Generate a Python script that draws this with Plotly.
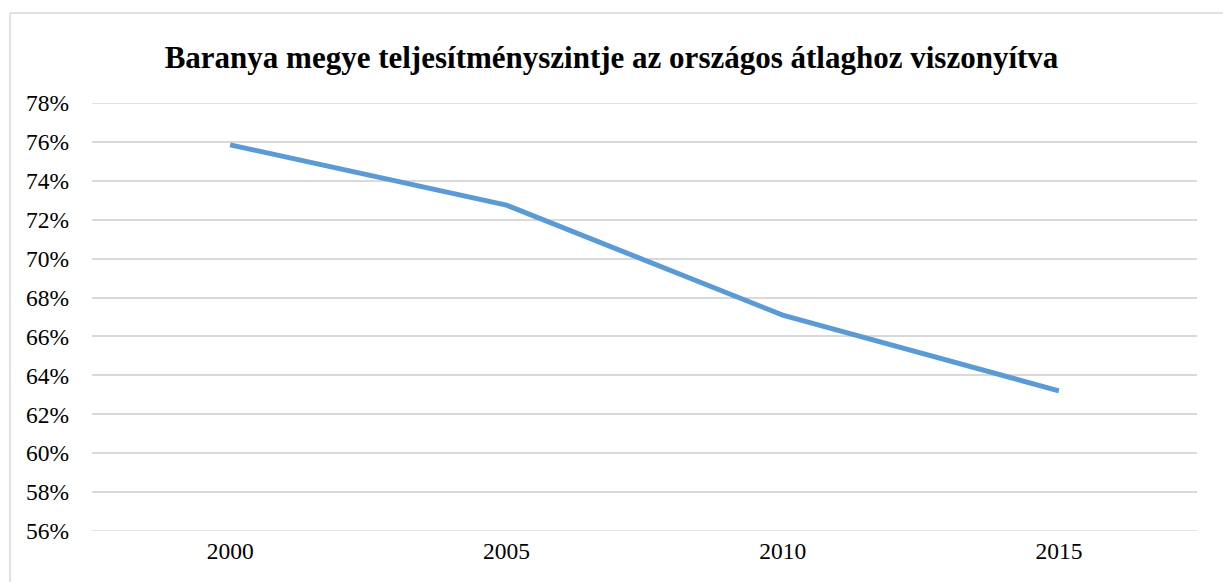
import plotly.graph_objects as go

years = ["2000", "2005", "2010", "2015"]
values = [75.85, 72.75, 67.1, 63.2]
y_ticks = [56, 58, 60, 62, 64, 66, 68, 70, 72, 74, 76, 78]
y_tick_labels = [f"{v}%" for v in y_ticks]
title_text = "Baranya megye teljesítményszintje az országos átlaghoz viszonyítva"

W, H = 1223, 582
L, R, T, B = 92, 26, 103, 51
pw, ph = W - L - R, H - T - B
SERIF = "Liberation Serif, Times New Roman, serif"
GRID = "#D9D9D9"

def px_x(x):
    return (x - L) / pw

def px_y(y):
    return (H - B - y) / ph

fig = go.Figure()
fig.add_trace(go.Scatter(
    x=years, y=values, mode="lines",
    line=dict(color="#5B9BD5", width=5),
    hoverinfo="skip", showlegend=False,
))

edge_lines = [
    dict(type="line", xref="paper", yref="y", x0=0, x1=1, y0=v, y1=v,
         line=dict(color=GRID, width=1.5), layer="below")
    for v in (y_ticks[0], y_ticks[-1])
]

fig.update_layout(
    width=W, height=H,
    margin=dict(l=L, r=R, t=T, b=B),
    paper_bgcolor="white", plot_bgcolor="white",
    font=dict(family=SERIF, color="#000000", size=23.5),
    title=dict(
        text="<b>" + title_text + "</b>",
        x=0.5, xanchor="center", y=1 - 57 / H, yanchor="middle",
        font=dict(family=SERIF, size=31, color="#000000"),
    ),
    xaxis=dict(
        type="category", showgrid=False, zeroline=False, showline=False,
        ticks="", tickfont=dict(family=SERIF, size=23.5, color="#000000"),
        ticklabelstandoff=3, range=[-0.5, 3.5],
    ),
    yaxis=dict(
        range=[y_ticks[0], y_ticks[-1]], tickmode="array", tickvals=y_ticks, ticktext=y_tick_labels,
        showgrid=True, gridcolor=GRID, gridwidth=1.5,
        zeroline=False, showline=False, ticks="",
        tickfont=dict(family=SERIF, size=23.5, color="#000000"), ticklabelstandoff=22,
    ),
    shapes=edge_lines + [
        dict(type="line", xref="paper", yref="paper",
             x0=px_x(10), x1=px_x(W + 5), y0=px_y(13), y1=px_y(13),
             line=dict(color=GRID, width=1.5)),
        dict(type="line", xref="paper", yref="paper",
             x0=px_x(10), x1=px_x(10), y0=px_y(13), y1=px_y(H + 5),
             line=dict(color=GRID, width=1.5)),
    ],
)

fig.write_html(
    "out.html",
    config={"displayModeBar": False},
    post_script="document.body.style.margin='0';document.body.style.overflow='hidden';",
)
